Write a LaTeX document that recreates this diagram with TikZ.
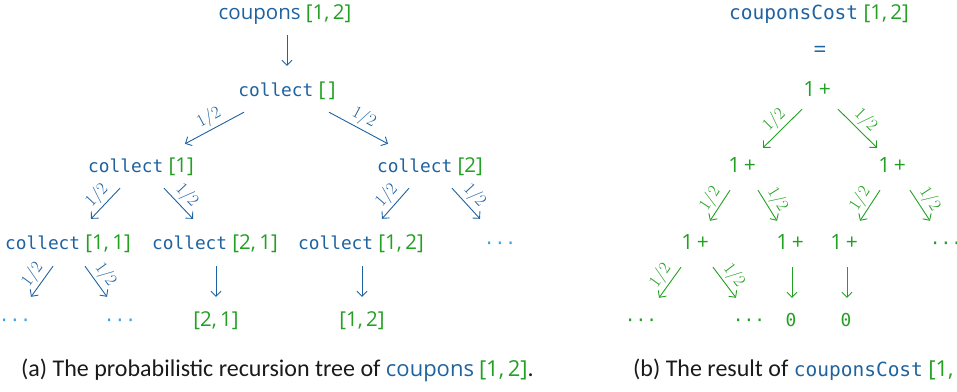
\documentclass[tikz,border=0pt]{standalone}
\usepackage[no-math]{fontspec}
\setmainfont{Carlito}
\setmonofont{DejaVu Sans Mono}
\newfontfamily\codesans{Open Sans}
\usetikzlibrary{calc,arrows.meta}
\definecolor{cblue}{HTML}{1F62A0}
\definecolor{cgreen}{HTML}{22A022}
\definecolor{cdots}{HTML}{3FA3E3}
\definecolor{ctext}{HTML}{1A1A1A}
\newcommand{\fnm}[1]{\textcolor{cblue}{\ttfamily #1}}
\newcommand{\fns}[1]{\textcolor{cblue}{\codesans #1}}
\newcommand{\lst}[1]{\textcolor{cgreen}{\codesans #1}}
\newcommand{\col}{\fnm{\fontsize{17.8}{20}\selectfont collect}}
\begin{document}
\begin{tikzpicture}[x=1pt,y=-1pt,
  font=\fontsize{20.5}{24}\codesans,
  every node/.style={inner sep=0pt},
  tn/.style={anchor=base,text height=13pt,text depth=0pt},
  mono/.style={font=\fontsize{17.8}{20}\ttfamily},
  plus/.style={tn,text=cgreen,font=\fontsize{21}{22}\codesans},
  barr/.style={cblue,line width=0.9pt,-{Straight Barb[length=5pt,width=10pt]}},
  garr/.style={cgreen,line width=0.9pt,-{Straight Barb[length=5pt,width=10pt]}},
  half/.style={midway,sloped,above,inner sep=2.5pt,font=\fontsize{16.5}{16}\selectfont},
  bdots/.style={tn,mono,text=cdots},
  gdots/.style={tn,mono,text=cgreen},
  captext/.style={anchor=base west,inner sep=0pt,text=ctext,font=\fontsize{24}{26}\rmfamily}]
\useasboundingbox (0,0) rectangle (957,391);
\clip (0,0) rectangle (957,391);
% ---------- left tree ----------
\node[tn] (t0) at (285,19) {\fns{coupons} \lst{[1,\,2]}};
\node[tn] (c0) at (287,96) {\col{} \lst{[\,]}};
\node[tn] (c1) at (141,172) {\col{} \lst{[1]}};
\node[tn] (c2) at (430,172) {\col{} \lst{[2]}};
\node[tn] (c11) at (68,249) {\col{} \lst{[1,\,1]}};
\node[tn] (c21) at (215,249) {\col{} \lst{[2,\,1]}};
\node[tn] (c12) at (361,249) {\col{} \lst{[1,\,2]}};
\node[bdots] (d3) at (500,249) {···};
\node[bdots] (b1) at (15,326) {···};
\node[bdots] (b2) at (120,326) {···};
\node[tn] (b3) at (216,326) {\lst{[2,\,1]}};
\node[tn] (b4) at (362,326) {\lst{[1,\,2]}};
\draw[barr] ($(t0.south)+(2,16)$) -- ($(c0.north)+(0,-17)$);
\draw[barr] ($(c0.south)+(-43,16)$) -- ($(c1.north)+(44,-15)$) node[half,text=cblue] {$1/2$};
\draw[barr] ($(c0.south)+(42,16)$) -- ($(c2.north)+(-42,-15)$) node[half,text=cblue] {$1/2$};
\draw[barr] ($(c1.south)+(-21,16)$) -- ($(c11.north)+(23,-17)$) node[half,text=cblue] {$1/2$};
\draw[barr] ($(c1.south)+(23,16)$) -- ($(c21.north)+(-22,-17)$) node[half,text=cblue] {$1/2$};
\draw[barr] ($(c2.south)+(-21,16)$) -- ($(c12.north)+(21,-17)$) node[half,text=cblue] {$1/2$};
\draw[barr] ($(c2.south)+(22,16)$) -- ($(d3.north)+(-20,-17)$) node[half,text=cblue] {$1/2$};
\draw[barr] ($(c11.south)+(-15,17)$) -- ($(b1.north)+(16,-16)$) node[half,text=cblue] {$1/2$};
\draw[barr] ($(c11.south)+(17,17)$) -- ($(b2.north)+(-13,-16)$) node[half,text=cblue] {$1/2$};
\draw[barr] ($(c21.south)+(1,17)$) -- ($(b3.north)+(0,-16)$);
\draw[barr] ($(c12.south)+(1,17)$) -- ($(b4.north)+(0,-16)$);
\node[captext] (capa) at (21,376) {(a) The probabilistic recursion tree of {\fontsize{22}{24}\selectfont\fns{coupons} \lst{[1,\,2]}}.};
% ---------- right tree ----------
\node[tn] (r0) at (819,19) {\fnm{\fontsize{19.5}{20}\selectfont couponsCost} \lst{[1,\,2]}};
\node[tn,font=\fontsize{23}{22}\codesans] (eq) at (820,57) {\textcolor{cblue}{=}};
\node[plus] (p0) at (817,96) {1\,+};
\node[plus] (p1) at (742,172) {1\,+};
\node[plus] (p2) at (892,172) {1\,+};
\node[plus] (p11) at (695,249) {1\,+};
\node[plus] (p12) at (790,249) {1\,+};
\node[plus] (p21) at (844,249) {1\,+};
\node[gdots] (rd) at (946,249) {···};
\node[gdots] (q1) at (641,326) {···};
\node[gdots] (q2) at (749,326) {···};
\node[tn,mono,text=cgreen] (z1) at (791,326) {0};
\node[tn,mono,text=cgreen] (z2) at (846,326) {0};
\draw[garr] ($(p0.south)+(-15,13)$) -- ($(p1.north)+(21,-11)$) node[half,text=cgreen] {$1/2$};
\draw[garr] ($(p0.south)+(21,13)$) -- ($(p2.north)+(-15,-11)$) node[half,text=cgreen] {$1/2$};
\draw[garr] ($(p1.south)+(-12,18)$) -- ($(p11.north)+(15,-15)$) node[half,text=cgreen] {$1/2$};
\draw[garr] ($(p1.south)+(16,18)$) -- ($(p12.north)+(-13,-15)$) node[half,text=cgreen] {$1/2$};
\draw[garr] ($(p2.south)+(-12,18)$) -- ($(p21.north)+(16,-15)$) node[half,text=cgreen] {$1/2$};
\draw[garr] ($(p2.south)+(18,18)$) -- ($(rd.north)+(-16,-15)$) node[half,text=cgreen] {$1/2$};
\draw[garr] ($(p11.south)+(-14,18)$) -- ($(q1.north)+(18,-15)$) node[half,text=cgreen] {$1/2$};
\draw[garr] ($(p11.south)+(18,18)$) -- ($(q2.north)+(-13,-15)$) node[half,text=cgreen] {$1/2$};
\draw[garr] ($(p12.south)+(2,18)$) -- ($(z1.north)+(1,-15)$);
\draw[garr] ($(p21.south)+(3,18)$) -- ($(z2.north)+(1,-15)$);
\node[captext] (capb) at (633,376) {(b) The result of \fnm{\fontsize{19.5}{20}\selectfont couponsCost} {\fontsize{22}{24}\selectfont\lst{[1,\,2]}}.};
\end{tikzpicture}
\end{document}
